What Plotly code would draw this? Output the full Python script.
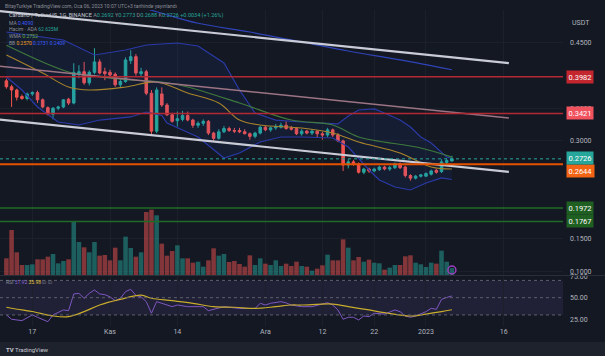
import pandas as pd
import plotly.graph_objects as go

# ---------------- data ----------------
start_date = "2022-10-12"
n_days = 87
dates = pd.date_range(start_date, periods=n_days, freq="D")

opens = [.392, .383, .378, .368, .365, .372, .374, .363, .351, .341,
         .350, .352, .364, .358, .403, .406, .389, .405, .421, .406,
         .405, .402, .386, .391, .423, .429, .403, .406, .373, .315,
         .372, .355, .340, .331, .333, .339, .332, .324, .327, .330,
         .312, .304, .314, .319, .316, .316, .314, .311, .307, .312,
         .321, .317, .320, .321, .324, .320, .319, .311, .315, .312,
         .315, .311, .309, .317, .309, .300, .263, .268, .265, .252,
         .257, .254, .256, .260, .257, .259, .265, .260, .247, .243,
         .246, .246, .249, .255, .253, .267, .2692]
highs = [.395, .386, .380, .371, .374, .376, .377, .365, .353, .352,
         .354, .364, .366, .419, .416, .421, .408, .442, .425, .412,
         .409, .405, .395, .428, .439, .433, .412, .409, .378, .382,
         .382, .358, .343, .345, .346, .345, .334, .330, .333, .332,
         .314, .318, .323, .322, .320, .320, .318, .313, .314, .323,
         .324, .322, .326, .328, .330, .323, .321, .318, .317, .318,
         .316, .314, .320, .319, .312, .302, .272, .271, .267, .259,
         .259, .259, .262, .262, .262, .267, .267, .262, .249, .248,
         .249, .252, .256, .257, .272, .273, .2773]
lows = [.380, .352, .362, .363, .362, .369, .358, .350, .339, .333,
        .347, .350, .355, .356, .396, .386, .385, .402, .402, .393,
        .398, .383, .382, .389, .418, .400, .398, .370, .309, .312,
        .352, .338, .328, .322, .330, .330, .320, .320, .323, .309,
        .300, .302, .312, .314, .312, .312, .310, .302, .304, .310,
        .315, .314, .317, .319, .317, .316, .309, .308, .310, .309,
        .306, .302, .306, .306, .298, .254, .258, .262, .250, .249,
        .251, .252, .254, .255, .254, .257, .257, .244, .239, .241,
        .244, .245, .247, .250, .251, .264, .2688]
closes = [.383, .378, .367, .365, .372, .374, .363, .352, .341, .350,
          .352, .363, .358, .405, .406, .389, .405, .421, .404, .403,
          .401, .386, .391, .424, .429, .404, .406, .373, .315, .378,
          .355, .340, .330, .334, .339, .332, .324, .327, .330, .312,
          .304, .314, .319, .316, .315, .314, .311, .307, .312, .321,
          .317, .320, .322, .324, .319, .318, .311, .315, .312, .315,
          .311, .309, .317, .309, .300, .263, .268, .265, .252, .257,
          .254, .257, .260, .257, .259, .265, .259, .247, .243, .246,
          .248, .250, .254, .252, .268, .270, .2726]
volumes_m = [150, 405, 204, 90, 90, 96, 141, 141, 165, 189,
             105, 126, 141, 477, 297, 249, 204, 297, 174, 180,
             132, 246, 132, 345, 243, 165, 204, 567, 588, 537,
             282, 174, 216, 267, 150, 150, 111, 120, 75, 132,
             240, 174, 189, 117, 126, 99, 75, 177, 90, 150,
             102, 90, 132, 81, 102, 81, 120, 81, 75, 39,
             57, 87, 183, 132, 132, 321, 246, 132, 162, 120,
             138, 111, 105, 48, 66, 90, 90, 168, 177, 111,
             96, 72, 111, 102, 219, 120, 62.6]

# indicator lines read at sample candles (index, value)
ma_idx = [26, 30, 37, 47, 57, 66, 76, 86]
ma_val = [0.505, 0.4955, 0.4802, 0.4668, 0.4515, 0.4377, 0.424, 0.409]

bb_upper_idx = [0, 6, 11, 17, 23, 27, 33, 37, 42, 45, 48, 52, 57, 64, 66, 68,
                71, 73, 76, 78, 80, 82, 85, 86]
bb_upper_val = [0.4668, 0.4607, 0.4546, 0.4316, 0.4393, 0.4469, 0.450, 0.4454,
                0.4194, 0.378, 0.3428, 0.332, 0.329, 0.326, 0.3382, 0.3474,
                0.349, 0.3428, 0.332, 0.3214, 0.306, 0.2969, 0.2754, 0.2731]
bb_lower_idx = [0, 3, 6, 10, 14, 18, 24, 27, 30, 31, 37, 40, 42, 45, 49, 53,
                57, 63, 66, 70, 72, 75, 78, 81, 84, 86]
bb_lower_val = [0.398, 0.378, 0.352, 0.329, 0.3244, 0.332, 0.3367, 0.3443,
                0.339, 0.3275, 0.306, 0.2861, 0.2739, 0.2816, 0.2984, 0.306,
                0.306, 0.3045, 0.2907, 0.2555, 0.2402, 0.2295, 0.2249, 0.2356,
                0.2433, 0.2409]
bb_basis_idx = [0, 7, 12, 16, 23, 29, 35, 41, 45, 49, 57, 63, 68, 76, 82, 86]
bb_basis_val = [0.4316, 0.404, 0.3826, 0.378, 0.3826, 0.3903, 0.3734, 0.3581,
                0.332, 0.3244, 0.3198, 0.3122, 0.2984, 0.2816, 0.2601, 0.257]
wma_idx = [0, 12, 18, 24, 30, 35, 45, 55, 63, 68, 80, 86]
wma_val = [0.4465, 0.4056, 0.398, 0.3933, 0.3903, 0.3826, 0.3581, 0.332,
           0.3244, 0.306, 0.2892, 0.2752]

rsi_idx = [0, 1, 3, 5, 6, 8, 9, 11, 12, 13, 14, 15, 16, 17, 18, 19, 20, 21,
           22, 23, 24, 25, 26, 27, 28, 29, 30, 32, 33, 35, 37, 38, 39, 41, 42,
           45, 48, 49, 50, 51, 53, 54, 55, 57, 59, 62, 63, 64, 65, 66, 67, 68,
           69, 70, 71, 73, 75, 76, 77, 78, 79, 81, 82, 83, 84, 85, 86]
rsi_val = [30, 25, 23.4, 30, 27.3, 22.2, 30, 35.8, 35, 54.3, 55, 49.3, 55, 59,
           54.3, 53.5, 51, 46.5, 49.3, 57, 59.7, 52.6, 51, 45.4, 32, 45.4, 43.5,
           39.6, 41.5, 39.6, 39.6, 39.6, 35, 37.5, 39.6, 37.5, 37.5, 43.5, 41.5,
           43.5, 45.4, 44, 41.5, 39.6, 39.6, 44.2, 41.5, 35.8, 25, 27.3, 27.3,
           24.2, 28.8, 28, 32, 31, 35.8, 33.8, 28.8, 27.3, 28.8, 33.8, 37.7,
           36.5, 48, 50.3, 51.92]
rsi_ma_idx = [0, 3, 5, 9, 12, 15, 18, 22, 26, 28, 32, 36, 40, 44, 48, 52, 55,
              57, 63, 66, 70, 73, 78, 81, 84, 86]
rsi_ma_val = [38.9, 35.8, 34, 28.8, 28, 33.8, 41.5, 48, 52.9, 49.3, 46.5, 43.5,
              39.6, 38.9, 37.5, 39.6, 41.5, 41.5, 42.6, 39.6, 35.8, 32.7, 28.8,
              31, 33.8, 35.98]
rsi_levels = [70, 50, 30]

# drawn trend lines: (start date, start price, end date, end price)
trend_dates = ["2022-10-10", "2023-01-17"]
trend_top = [0.4994, 0.4192]
trend_mid = [0.4151, 0.3352]
trend_low = [0.3332, 0.2525]

# horizontal levels
levels = [0.3982, 0.3421, 0.2644, 0.1972, 0.1767]
level_line_colors = ["#b22833", "#b22833", "#e65100", "#1f6b25", "#1f6b25"]
level_label_colors = ["#c3262e", "#f0525e", "#f26414", "#1f5f22", "#1f5f22"]
level_label_shift = [0, 0, -7, 0, 0]
last_price = 0.2726

# visible price ticks (0.40 / 0.25 / 0.20 sit fully under level labels)
price_ticks = [0.45, 0.35, 0.30, 0.15, 0.10]
rsi_ticks = [25, 50, 75]
date_ticks = ["2022-10-17", "2022-11-01", "2022-11-14", "2022-12-01",
              "2022-12-12", "2022-12-22", "2023-01-01", "2023-01-16"]
date_tick_labels = ["17", "Kas", "14", "Ara", "12", "22", "2023", "16"]

# ---------------- figure ----------------
BG = "#141823"
UP = "#26a69a"
DOWN = "#ef5350"
W, H = 605, 356
ML, MR, MT, MB = 0, 42, 10, 30
PH = H - MT - MB  # plot height in px
PW = W - ML - MR


def py(pix):
    """paper y from a pixel row"""
    return (H - MB - pix) / PH


def pick(idx):
    return [dates[i] for i in idx]


fig = go.Figure()

vol_colors = ["rgba(38,166,154,0.5)" if c >= o else "rgba(239,83,80,0.5)"
              for o, c in zip(opens, closes)]
fig.add_trace(go.Bar(x=dates, y=volumes_m, marker_color=vol_colors,
                     marker_line_width=0, yaxis="y3", hoverinfo="skip"))

# Bollinger fill
fig.add_trace(go.Scatter(x=pick(bb_upper_idx), y=bb_upper_val, mode="lines",
                         line=dict(color="#2a3aa8", width=1.2), yaxis="y",
                         hoverinfo="skip"))
fig.add_trace(go.Scatter(x=pick(bb_lower_idx), y=bb_lower_val, mode="lines",
                         line=dict(color="#2a3aa8", width=1.2), yaxis="y",
                         fill="tonexty", fillcolor="rgba(41,98,255,0.07)",
                         hoverinfo="skip"))
fig.add_trace(go.Scatter(x=pick(bb_basis_idx), y=bb_basis_val, mode="lines",
                         line=dict(color="#a8842a", width=1.1, shape="spline"),
                         hoverinfo="skip"))
fig.add_trace(go.Scatter(x=pick(wma_idx), y=wma_val, mode="lines",
                         line=dict(color="#3f7a3c", width=1.1, shape="spline"),
                         hoverinfo="skip"))
fig.add_trace(go.Scatter(x=pick(ma_idx), y=ma_val, mode="lines",
                         line=dict(color="#2f44b8", width=1.2, shape="spline"),
                         hoverinfo="skip"))

fig.add_trace(go.Candlestick(
    x=dates, open=opens, high=highs, low=lows, close=closes,
    increasing=dict(line=dict(color=UP, width=1), fillcolor=UP),
    decreasing=dict(line=dict(color=DOWN, width=1), fillcolor=DOWN),
    whiskerwidth=0, hoverinfo="skip"))

# trend lines
fig.add_trace(go.Scatter(x=trend_dates, y=trend_top, mode="lines",
                         line=dict(color="#c9ccd6", width=2.2), hoverinfo="skip"))
fig.add_trace(go.Scatter(x=trend_dates, y=trend_mid, mode="lines",
                         line=dict(color="#9c7484", width=1.4), hoverinfo="skip"))
fig.add_trace(go.Scatter(x=trend_dates, y=trend_low, mode="lines",
                         line=dict(color="#c9ccd6", width=2.2), hoverinfo="skip"))

# marker icon at last volume bar
fig.add_trace(go.Scatter(x=[dates[-1]], y=[45], yaxis="y3", mode="markers",
                         marker=dict(symbol="circle-open", size=8,
                                     color="#9c3fc0", line=dict(width=1.5)),
                         hoverinfo="skip"))

# RSI
fig.add_trace(go.Scatter(x=pick(rsi_idx), y=rsi_val, mode="lines", yaxis="y2",
                         line=dict(color="#7e57c2", width=1), hoverinfo="skip"))
fig.add_trace(go.Scatter(x=pick(rsi_ma_idx), y=rsi_ma_val, mode="lines",
                         yaxis="y2", line=dict(color="#c8ac2c", width=1.2,
                                               shape="spline"),
                         hoverinfo="skip"))

shapes = []
# RSI band
shapes.append(dict(type="rect", xref="x domain", yref="y2", x0=0, x1=1,
                   y0=rsi_levels[2], y1=rsi_levels[0],
                   fillcolor="rgba(126,87,194,0.12)", line_width=0,
                   layer="below"))
for lv in rsi_levels:
    shapes.append(dict(type="line", xref="x domain", yref="y2", x0=0, x1=1,
                       y0=lv, y1=lv, line=dict(color="#5d606b", width=1,
                                                dash="dot")))
# levels
for lv, col in zip(levels, level_line_colors):
    shapes.append(dict(type="line", xref="paper", yref="y", x0=0, x1=1,
                       y0=lv, y1=lv, line=dict(color=col,
                                                width=2 if col == "#e65100" else 1.4)))
shapes.append(dict(type="line", xref="paper", yref="y", x0=0, x1=1,
                   y0=last_price, y1=last_price,
                   line=dict(color=UP, width=1, dash="dot")))
# pane separator
shapes.append(dict(type="line", xref="paper", yref="paper", x0=0,
                   x1=1 + MR / PW, y0=py(275.5), y1=py(275.5),
                   line=dict(color="#2a2e39", width=1)))
# bottom strip
shapes.append(dict(type="rect", xref="paper", yref="paper", x0=-0.01,
                   x1=1 + MR / PW + 0.01, y0=py(357), y1=py(342),
                   fillcolor="#1e222d", line_width=0, layer="below"))

annotations = []
# price labels
for lv, col, sh in zip(levels + [last_price], level_label_colors + [UP],
                       level_label_shift + [1]):
    annotations.append(dict(x=1, xref="paper", y=lv, yref="y", xanchor="left",
                            xshift=3, yshift=sh, text=f"{lv:.4f}",
                            showarrow=False, bgcolor=col, borderpad=1.5,
                            font=dict(color="white", size=7.5)))
annotations.append(dict(x=1, xref="paper", y=py(17), yref="paper",
                        xanchor="left", xshift=7, text="USDT", showarrow=False,
                        font=dict(color="#b2b5be", size=7)))

GR = "#8a8d96"
legend_rows = [
    (5.7, 3, 5, f"<span style='color:{GR}'>BitayTurkiye TradingView.com, Oca 06, 2023 10:07 UTC+3 tarihinde yayınlandı</span>"),
    (15.7, 7, 5.5, f"<span style='color:#c7cad3'>Cardano / TetherUS, 1G, BINANCE</span> "
                   f"<span style='color:{GR}'>A</span><span style='color:{UP}'>0.2692</span> "
                   f"<span style='color:{GR}'>Y</span><span style='color:{UP}'>0.2773</span> "
                   f"<span style='color:{GR}'>D</span><span style='color:{UP}'>0.2688</span> "
                   f"<span style='color:{GR}'>K</span><span style='color:{UP}'>0.2726</span> "
                   f"<span style='color:{UP}'>+0.0034 (+1.26%)</span>"),
    (23.3, 7, 5, f"<span style='color:{GR}'>MA</span> <span style='color:#3a5cff'>0.4090</span>"),
    (29.3, 7, 5, f"<span style='color:{GR}'>Hacim · ADA</span> <span style='color:{UP}'>62.625M</span>"),
    (36.0, 7, 5, f"<span style='color:{GR}'>WMA</span> <span style='color:#6aaf3d'>0.2752</span>"),
    (42.7, 7, 5, f"<span style='color:{GR}'>BB</span> <span style='color:#f0a020'>0.2570</span> "
                 f"<span style='color:#3a5cff'>0.2731</span> <span style='color:#3a5cff'>0.2409</span>"),
    (281.7, 4, 5, f"<span style='color:{GR}'>RSI</span> <span style='color:#8e6ad8'>51.92</span> "
                  f"<span style='color:#e0c43a'>35.98</span> <span style='color:{GR}'>∅ ∅</span>"),
]
for ypix, xpix, fs, txt in legend_rows:
    annotations.append(dict(x=xpix / PW, xref="paper", y=py(ypix),
                            yref="paper", xanchor="left", yanchor="middle",
                            text=txt, showarrow=False,
                            font=dict(size=fs, color=GR)))
annotations.append(dict(x=4 / PW, xref="paper", y=py(349),
                        yref="paper", xanchor="left", yanchor="middle",
                        text="<b>TV</b> TradingView", showarrow=False,
                        font=dict(size=6, color="#c7cad3")))

x_left = pd.Timestamp(start_date) - pd.Timedelta(hours=29.7)
x_right = pd.Timestamp("2023-01-27 10:48")

main_bottom = py(275)
fig.update_layout(
    width=W, height=H,
    margin=dict(l=ML, r=MR, t=MT, b=MB, autoexpand=False),
    paper_bgcolor=BG, plot_bgcolor=BG,
    showlegend=False, bargap=0.12,
    font=dict(family="Roboto, Arial, sans-serif", color="#b2b5be"),
    xaxis=dict(type="date", range=[x_left, x_right], anchor="y2",
               rangeslider=dict(visible=False), automargin=False,
               tickvals=date_ticks, ticktext=date_tick_labels,
               tickfont=dict(size=7, color="#b2b5be"),
               showgrid=True, gridcolor="#1c202b", gridwidth=1,
               zeroline=False, showline=False, ticks=""),
    yaxis=dict(domain=[main_bottom, 1], range=[0.0947, 0.5005], side="right",
               tickvals=price_ticks, ticktext=[f"{v:.4f}" for v in price_ticks],
               tickfont=dict(size=7, color="#b2b5be"), ticklabelstandoff=6,
               showgrid=True, gridcolor="#1c202b", zeroline=False,
               anchor="x", automargin=False),
    yaxis2=dict(domain=[0, py(276)], range=[17.2, 75.1], side="right",
                tickvals=rsi_ticks, ticktext=[f"{v:.2f}" for v in rsi_ticks],
                tickfont=dict(size=7, color="#b2b5be"), ticklabelstandoff=6,
                showgrid=False, zeroline=False, anchor="x", automargin=False),
    yaxis3=dict(overlaying="y", range=[0, 2385], visible=False,
                showgrid=False),
    shapes=shapes, annotations=annotations,
)

fig.write_html(
    "out.html",
    config={"displayModeBar": False},
    post_script=("document.body.style.margin='0';"
                 "document.body.style.padding='0';"
                 "document.body.style.overflow='hidden';"
                 "document.body.style.background='#141823';"),
)
